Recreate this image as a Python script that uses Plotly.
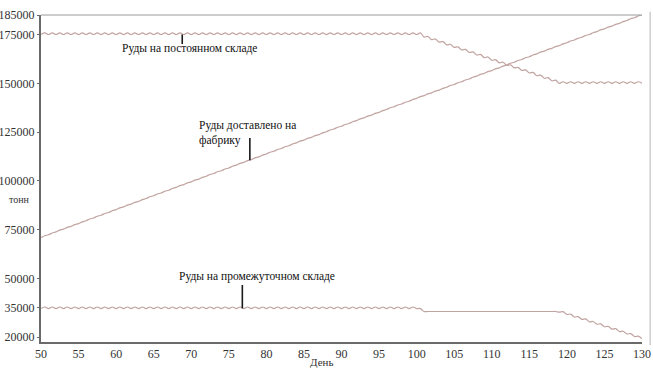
import plotly.graph_objects as go

# Day numbers on the horizontal axis
days = list(range(50, 131))

# Ore held on the permanent stockpile, tonnes (level at the start of each day)
permanent_stock = (
    [175000] * 51
    + [173700, 172400, 171100, 169700, 168400, 167100, 165800, 164500, 163200,
       161800, 160500, 159200, 157900, 156600, 155300, 153900, 152600, 151300]
    + [150000] * 12
)
# Mid-day rise of the permanent stockpile, tonnes
permanent_swing = [800] * 51 + [300] * 18 + [800] * 12

# Ore delivered to the processing plant (cumulative), tonnes
delivered = [
    71000, 72400, 73900, 75300, 76700, 78100, 79600, 81000, 82400, 83800,
    85300, 86700, 88100, 89500, 91000, 92400, 93800, 95200, 96700, 98100,
    99500, 100900, 102400, 103800, 105200, 106600, 108100, 109500, 110900, 112300,
    113800, 115200, 116600, 118000, 119500, 120900, 122300, 123700, 125200, 126600,
    128000, 129400, 130900, 132300, 133700, 135100, 136600, 138000, 139400, 140800,
    142300, 143700, 145100, 146500, 148000, 149400, 150800, 152200, 153700, 155100,
    156500, 157900, 159400, 160800, 162200, 163600, 165100, 166500, 167900, 169300,
    170800, 172200, 173600, 175000, 176500, 177900, 179300, 180700, 182200, 183600,
    185000,
]
delivered_swing = [900] * 81

# Ore held on the intermediate stockpile, tonnes
intermediate_stock = (
    [34600] * 51
    + [33100] * 18
    + [32800, 31600, 30300, 29100, 27800, 26600, 25300, 24100, 22800, 21600, 20300, 19100]
)
intermediate_swing = [800] * 50 + [0] * 19 + [200] * 12

y_tick_values = [185000, 175000, 150000, 125000, 100000, 75000, 50000, 35000, 20000]
x_tick_values = list(range(50, 131, 5))

LINE_COLOR = "#c1a3a0"
SERIF = "Liberation Serif"


def with_midday(levels, swings):
    """Daily levels plus the mid-day reading of each day."""
    xs, ys = [], []
    for i, (d, v) in enumerate(zip(days, levels)):
        xs.append(d)
        ys.append(v)
        if i < len(days) - 1:
            xs.append(d + 0.5)
            ys.append(v + swings[i])
    return xs, ys


fig = go.Figure()
for levels, swings, name in [
    (permanent_stock, permanent_swing, "Руды на постоянном складе"),
    (delivered, delivered_swing, "Руды доставлено на фабрику"),
    (intermediate_stock, intermediate_swing, "Руды на промежуточном складе"),
]:
    xs, ys = with_midday(levels, swings)
    fig.add_trace(go.Scatter(
        x=xs, y=ys, mode="lines", name=name,
        line=dict(color=LINE_COLOR, width=1.2, shape="spline", smoothing=1.0),
        hoverinfo="skip",
    ))

# Leader lines from each caption to its curve
leaders = [
    (68.8, 175000, 170100),
    (77.8, 110600, 122000),
    (76.8, 34700, 46700),
]
for x, y0, y1 in leaders:
    fig.add_shape(type="line", xref="x", yref="y", x0=x, x1=x, y0=y0, y1=y1,
                  line=dict(color="#1a1a1a", width=1.6))

captions = [
    dict(x=69.8, y=167600, text="Руды на постоянном складе", xanchor="center"),
    dict(x=70.8, y=124300, text="Руды доставлено на<br>фабрику", xanchor="left", align="left"),
    dict(x=78.7, y=50800, text="Руды на промежуточном складе", xanchor="center"),
]
for c in captions:
    fig.add_annotation(xref="x", yref="y", showarrow=False, yanchor="middle",
                       font=dict(family=SERIF, size=11.5, color="#111111"), **c)

# Unit caption beside the value axis
fig.add_annotation(xref="paper", yref="paper", x=-0.035, y=0.435, text="тонн",
                   showarrow=False, xanchor="center", yanchor="middle",
                   font=dict(family=SERIF, size=10, color="#333333"))

# Day axis caption
fig.add_annotation(xref="paper", yref="paper", x=0.467, y=-0.06, text="День",
                   showarrow=False, xanchor="center", yanchor="middle",
                   font=dict(family=SERIF, size=11, color="#333333"))

# Frame: thin top edge and outer right edge
fig.add_shape(type="line", xref="paper", yref="paper", x0=0, x1=1.0, y0=1, y1=1,
              line=dict(color="#9a9a9a", width=1))
fig.add_shape(type="line", xref="paper", yref="paper", x0=1.0135, x1=1.0135, y0=-0.01, y1=1.01,
              line=dict(color="#b5b5b5", width=1))

fig.update_layout(
    width=653, height=370,
    margin=dict(l=41, r=11, t=15, b=28, autoexpand=False),
    paper_bgcolor="white", plot_bgcolor="white",
    showlegend=False,
    font=dict(family=SERIF),
    xaxis=dict(
        range=[50, 130], tickvals=x_tick_values, showgrid=False, zeroline=False,
        showline=True, linecolor="#6a6a6a", linewidth=2, automargin=False,
        ticks="", tickfont=dict(family=SERIF, size=12, color="#333333"),
    ),
    yaxis=dict(
        range=[17480, 185000], tickvals=y_tick_values, tickformat="d",
        showgrid=False, zeroline=False, automargin=False,
        showline=True, linecolor="#6a6a6a", linewidth=2,
        ticks="outside", ticklen=2, tickcolor="#6a6a6a",
        tickfont=dict(family=SERIF, size=12, color="#333333"),
    ),
)

fig.write_html("out.html")
